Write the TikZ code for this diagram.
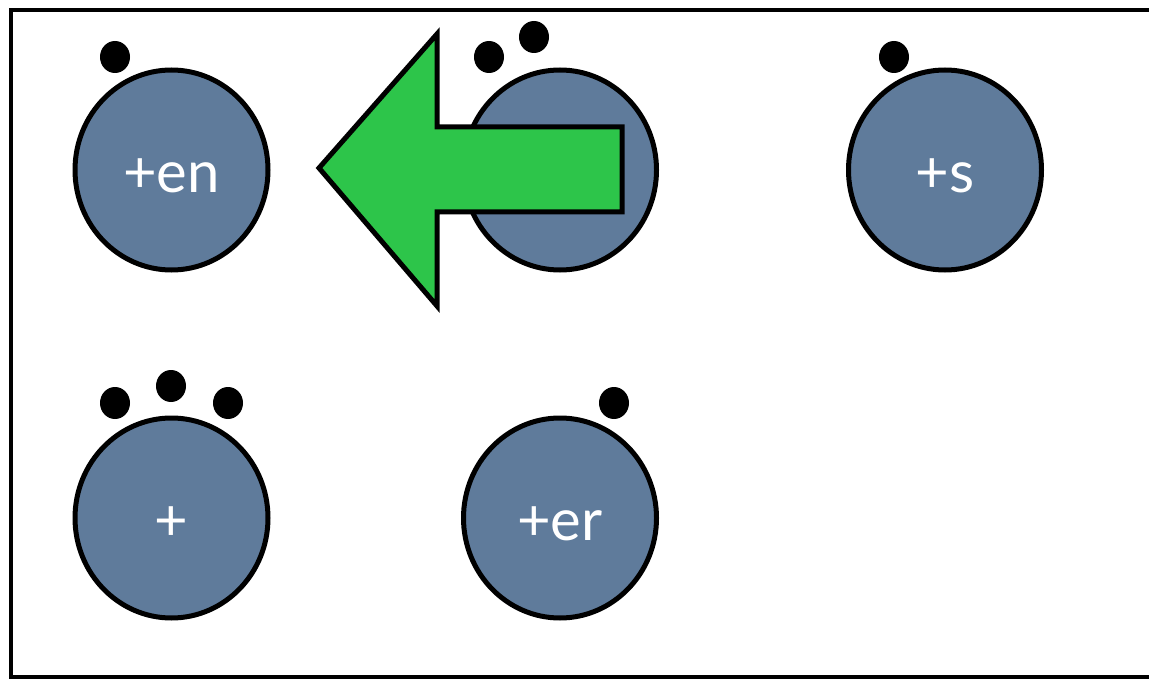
\documentclass[tikz,border=0pt]{standalone}
\usepackage{fontspec}
\setmainfont{Lato}
\usetikzlibrary{shapes.geometric}
\definecolor{ballblue}{HTML}{5F7B9B}
\definecolor{arrowgreen}{HTML}{2DC54A}
\tikzset{
  ball/.style={ellipse, draw=black, line width=5pt, fill=ballblue, minimum width=193pt, minimum height=200pt, inner sep=0pt},
  dot/.style={ellipse, fill=black, minimum width=30pt, minimum height=32pt, inner sep=0pt},
  lbl/.style={anchor=base, text=white, font=\fontsize{58}{64}\selectfont, inner sep=0pt},
}
\begin{document}
\begin{tikzpicture}[x=1pt,y=-1pt]
\useasboundingbox (0,0) rectangle (1149,679);
\clip (0,0) rectangle (1149,679);
\draw[line width=4.5pt] (11,10) rectangle (1170,677);
% top row
\node[ball] (en) at (171.5,170) {};
\node[ball] (mid) at (560,170) {};
\node[ball] (s) at (945,170) {};
% bottom row
\node[ball] (plus) at (171.5,518) {};
\node[ball] (er) at (560,518) {};
% dots
\node[dot] (d1) at (115,57) {};
\node[dot] (d2) at (489,57) {};
\node[dot] (d3) at (534,37) {};
\node[dot] (d4) at (894,57) {};
\node[dot] (d5) at (115,403) {};
\node[dot] (d6) at (171,386) {};
\node[dot] (d7) at (228,403) {};
\node[dot] (d8) at (614,403) {};
% labels
\node[lbl] (ten) at (171.5,193) {+en};
\node[lbl] (ts) at (945,193) {+s};
\node[lbl] (tplus) at (171.5,540) {+};
\node[lbl] (ter) at (560,540) {+er};
% arrow
\draw[line width=5pt, line join=miter, fill=arrowgreen]
  (319,168) -- (437,34) -- (437,127) -- (622,127) -- (622,212) -- (437,212) -- (437,306) -- cycle;
\end{tikzpicture}
\end{document}
